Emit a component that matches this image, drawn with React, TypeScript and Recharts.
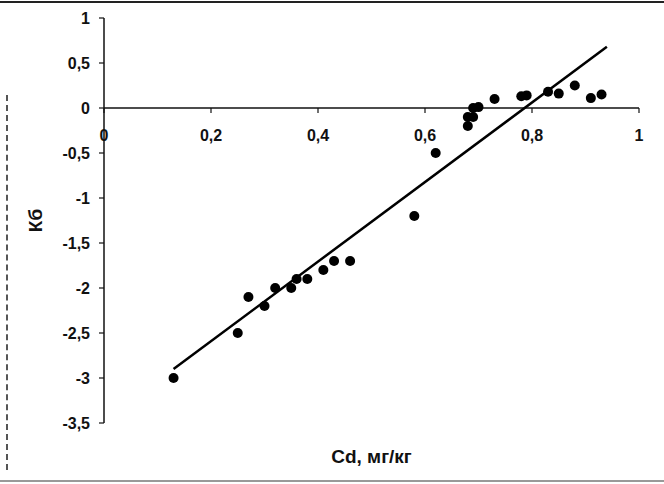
import { ScatterChart, Scatter, XAxis, YAxis, ReferenceLine, ReferenceDot } from 'recharts'

// Cd content (mg/kg) and Kb coefficient
const cdValues = [0.13, 0.25, 0.27, 0.3, 0.32, 0.35, 0.36, 0.38, 0.41, 0.43, 0.46, 0.58, 0.62, 0.68, 0.68, 0.69, 0.69, 0.7, 0.73, 0.78, 0.79, 0.83, 0.85, 0.88, 0.91, 0.93]
const kbValues = [-3.0, -2.5, -2.1, -2.2, -2.0, -2.0, -1.9, -1.9, -1.8, -1.7, -1.7, -1.2, -0.5, -0.2, -0.1, -0.1, 0.0, 0.01, 0.1, 0.13, 0.14, 0.18, 0.16, 0.25, 0.11, 0.15]

// end points of the fitted line
const trendX = [0.13, 0.94]
const trendY = [-2.9, 0.68]

const xTicks = [0, 0.2, 0.4, 0.6, 0.8, 1]
const yTicks = [-3.5, -3, -2.5, -2, -1.5, -1, -0.5, 0, 0.5, 1]

const points = cdValues.map((x, i) => ({ x, y: kbValues[i] }))
const trend = trendX.map((x, i) => ({ x, y: trendY[i] }))

const FONT = '"Liberation Sans", Arial, sans-serif'
const INK = '#111'

const fmt = (v: number) => String(v).replace('.', ',')

// x axis sits on y = 0, so its ticks are drawn as reference dots there
function XTick(props: any) {
  const { cx, cy, value } = props
  return (
    <g>
      <line x1={cx} y1={cy} x2={cx} y2={cy + 5} stroke={INK} strokeWidth={1.2} />
      <text x={cx} y={cy + 33} textAnchor="middle" fontFamily={FONT} fontSize={16} fontWeight="bold" fill={INK}>
        {fmt(value)}
      </text>
    </g>
  )
}

export default function App() {
  return (
    <div style={{ position: 'absolute', top: 0, left: 0, width: 664, height: 484, background: '#fff', overflow: 'hidden' }}>
      <div style={{ position: 'absolute', top: 1, left: 0, width: 664, borderTop: '2px solid #222' }} />
      <div style={{ position: 'absolute', top: 480, left: 0, width: 664, borderTop: '2px solid #999' }} />
      <div style={{ position: 'absolute', top: 95, left: 6, height: 375, borderLeft: '2px dashed #555' }} />
      <ScatterChart width={664} height={484} margin={{ top: 18, right: 25, left: 0, bottom: 11 }}>
        <XAxis
          type="number"
          dataKey="x"
          domain={[0, 1]}
          ticks={xTicks}
          tick={false}
          tickLine={false}
          axisLine={false}
          height={50}
          label={{
            value: 'Cd, мг/кг',
            position: 'insideBottom',
            offset: 10,
            style: { fontFamily: FONT, fontSize: 19, fontWeight: 'bold', fill: INK },
          }}
        />
        <YAxis
          type="number"
          dataKey="y"
          domain={[-3.5, 1]}
          ticks={yTicks}
          interval={0}
          width={104}
          tickFormatter={fmt}
          tickSize={5}
          tickMargin={9}
          axisLine={{ stroke: INK, strokeWidth: 1.5 }}
          tickLine={{ stroke: INK, strokeWidth: 1.2 }}
          tick={{ fontFamily: FONT, fontSize: 16, fontWeight: 'bold', fill: INK }}
          label={{
            content: (p: any) => {
              const vb = p.viewBox
              const x = vb.x + 35
              const y = vb.y + vb.height / 2
              return (
                <text
                  x={x}
                  y={y}
                  transform={`rotate(-90 ${x} ${y})`}
                  textAnchor="middle"
                  dominantBaseline="central"
                  fontFamily={FONT}
                  fontSize={19}
                  fontWeight="bold"
                  fill={INK}
                >
                  Кб
                </text>
              )
            },
          }}
        />
        <ReferenceLine y={0} stroke={INK} strokeWidth={1.5} />
        {xTicks.map((t) => (
          <ReferenceDot key={t} x={t} y={0} r={0} shape={(p: any) => <XTick {...p} value={t} />} />
        ))}
        <Scatter
          data={trend}
          line={{ stroke: '#000', strokeWidth: 2.5 }}
          shape={() => <g />}
          isAnimationActive={false}
        />
        <Scatter
          data={points}
          fill="#000"
          shape={(p: any) => <circle cx={p.cx} cy={p.cy} r={5} fill="#000" />}
          isAnimationActive={false}
        />
      </ScatterChart>
    </div>
  )
}
